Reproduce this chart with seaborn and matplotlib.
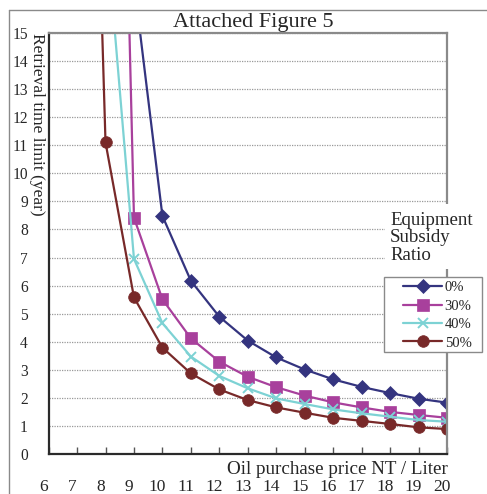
import numpy as np
import pandas as pd
import matplotlib
matplotlib.use("Agg")
import matplotlib.pyplot as plt
from matplotlib.patches import Rectangle
from matplotlib.lines import Line2D
import matplotlib.transforms as mtransforms
import seaborn as sns

# Oil purchase price (NT / Liter)
price = list(range(6, 21))

# Retrieval time limit (year) per equipment subsidy ratio; values above 15 run off the top
years_0 = [None, None, None, 16.8, 8.48, 6.17, 4.89, 4.04, 3.44, 3.01, 2.66, 2.39, 2.17, 1.97, 1.83]
years_30 = [None, None, 50.0, 8.42, 5.51, 4.12, 3.29, 2.75, 2.38, 2.08, 1.84, 1.66, 1.50, 1.39, 1.29]
years_40 = [None, None, 19.0, 6.95, 4.66, 3.47, 2.78, 2.34, 1.98, 1.78, 1.59, 1.45, 1.33, 1.21, 1.15]
years_50 = [None, 45.0, 11.1, 5.58, 3.79, 2.87, 2.30, 1.92, 1.66, 1.47, 1.29, 1.18, 1.07, 0.95, 0.89]

ratios = ["0%", "30%", "40%", "50%"]
y_ticks = list(range(0, 16))
x_ticks = price

rows = []
for r, vals in zip(ratios, [years_0, years_30, years_40, years_50]):
    for p, v in zip(price, vals):
        if v is not None:
            rows.append({"price": p, "years": v, "ratio": r})
df = pd.DataFrame(rows)

palette = {"0%": "#34347F", "30%": "#A8409C", "40%": "#7DD2D4", "50%": "#782929"}
markers = {"0%": "D", "30%": "s", "40%": "x", "50%": "o"}
msizes = {"0%": 7.2, "30%": 8.6, "40%": 7.8, "50%": 8.4}
medge = {"0%": 0.5, "30%": 0.5, "40%": 1.4, "50%": 0.5}
LW = 1.6

sns.set_style("white")
plt.rcParams["font.family"] = ["Liberation Serif", "DejaVu Serif"]

W, H = 487, 494
fig = plt.figure(figsize=(W / 100, H / 100), dpi=100)
ax = fig.add_axes([48.6 / W, (H - 454) / H, (447 - 48.6) / W, (454 - 33) / H])

for r in ratios:
    sub = df[df["ratio"] == r]
    c = palette[r]
    sns.lineplot(data=sub, x="price", y="years", color=c, marker=markers[r],
                 markersize=msizes[r], markerfacecolor=c, markeredgecolor=c,
                 markeredgewidth=medge[r], linewidth=LW, sort=True, ax=ax)

ax.set_xlim(6, 20)
ax.set_ylim(0, 15)
ax.set_xticks(x_ticks)
ax.set_yticks(y_ticks)
ax.set_xticklabels([str(v) for v in x_ticks], fontsize=12.5)
ax.set_yticklabels([str(v) for v in y_ticks], fontsize=11.2)
ax.set_xlabel("")
ax.set_ylabel("")

ax.tick_params(axis="x", direction="in", length=5, width=1, color="#555555", pad=18, bottom=True)
ax.tick_params(axis="y", length=0, pad=15)
shift = mtransforms.ScaledTranslation(-5 / 100, 0, fig.dpi_scale_trans)
for lab in ax.get_xticklabels():
    lab.set_transform(lab.get_transform() + shift)

ax.yaxis.grid(True, linestyle=(0, (1, 1)), color="#999999", linewidth=0.9)
ax.xaxis.grid(False)

for side in ["left", "bottom"]:
    ax.spines[side].set_color("#2a2a2a")
    ax.spines[side].set_linewidth(1.6)
for side in ["top", "right"]:
    ax.spines[side].set_color("#8a8a8a")
    ax.spines[side].set_linewidth(1.6)

# Outer frame (top and left edges)
fig.add_artist(Line2D([9 / W, 1.0], [(H - 10) / H] * 2, transform=fig.transFigure,
                      color="#8a8a8a", linewidth=1.0))
fig.add_artist(Line2D([9 / W] * 2, [0, (H - 10) / H], transform=fig.transFigure,
                      color="#8a8a8a", linewidth=1.0))

fig.text(253 / W, (H - 27.3) / H, "Attached Figure 5", ha="center", va="baseline", fontsize=16)
fig.text(448 / W, (H - 473.5) / H, "Oil purchase price NT / Liter", ha="right",
         va="baseline", fontsize=13.7)
fig.text(37 / W, (H - 33) / H, "Retrieval time limit (year)", rotation=270,
         ha="center", va="top", fontsize=12.5)

# Legend title on a white patch that hides the grid and the right spine
ax.add_artist(Rectangle((385 / W, (H - 269) / H), (W - 385) / W, 65 / H,
                        transform=fig.transFigure, facecolor="white", edgecolor="none",
                        clip_on=False, zorder=4.5))
ax.text(390 / W, (H - 212) / H, "Equipment\nSubsidy\nRatio", transform=fig.transFigure,
        ha="left", va="top", fontsize=13.6, linespacing=1.02, clip_on=False, zorder=6)

# Legend frame
ax.add_artist(Rectangle((384 / W, (H - 352) / H), 98 / W, 75 / H,
                        transform=fig.transFigure, facecolor="white", edgecolor="#8a8a8a",
                        linewidth=1.0, clip_on=False, zorder=4.6))
handles = [Line2D([], [], color=palette[r], marker=markers[r], markersize=msizes[r],
                  markerfacecolor=palette[r], markeredgecolor=palette[r],
                  markeredgewidth=medge[r], linewidth=LW)
           for r in ratios]
leg = ax.legend(handles, ratios, loc="upper left", bbox_to_anchor=(403 / W, (H - 281) / H),
                bbox_transform=fig.transFigure, frameon=False, fontsize=10.5,
                borderpad=0, borderaxespad=0, handlelength=2.7, handletextpad=0.15,
                labelspacing=0.36)
leg.set_zorder(6)

fig.savefig("out.png", dpi=100)
